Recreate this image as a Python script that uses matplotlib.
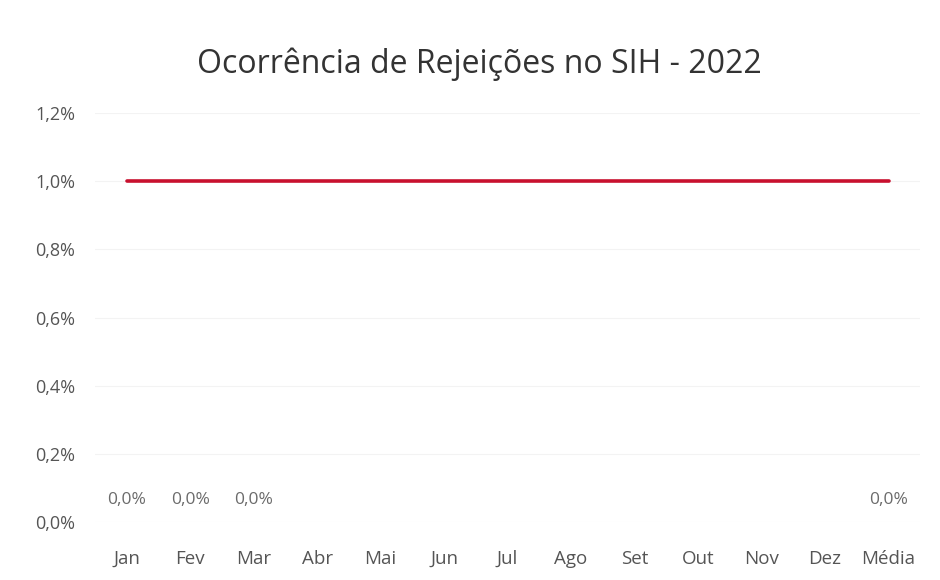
import matplotlib.pyplot as plt
import numpy as np

meses = ["Jan", "Fev", "Mar", "Abr", "Mai", "Jun", "Jul", "Ago", "Set",
         "Out", "Nov", "Dez", "Média"]
# rejection rate (only Jan-Mar and mean reported)
rejeicoes = [0.0, 0.0, 0.0, None, None, None, None, None, None,
             None, None, None, 0.0]
meta = [1.0] * len(meses)

plt.rcParams['font.family'] = ['Open Sans', 'DejaVu Sans']

fig = plt.figure(figsize=(9.4, 5.8), dpi=100)
ax = fig.add_axes([0.101, 0.10, 0.878, 0.705])

x = np.arange(len(meses))
vals = np.array([np.nan if v is None else v for v in rejeicoes])
ax.bar(x, np.nan_to_num(vals), width=0.6, color="#4472c4")
ax.plot(x, meta, color="#c8102e", lw=2.6, solid_capstyle="round", zorder=3)

for xi, v in zip(x, rejeicoes):
    if v is not None:
        ax.text(xi, v + 0.065, f"{v:.1f}%".replace(".", ","), ha="center",
                va="center", fontsize=12.5, color="#6b6b6b")

ax.set_xlim(-0.5, len(meses) - 0.5)
ax.set_ylim(0, 1.2)
ax.set_yticks(np.arange(0, 1.21, 0.2))
ax.set_yticklabels([f"{t:.1f}%".replace(".", ",") for t in np.arange(0, 1.21, 0.2)])
ax.set_xticks(x)
ax.set_xticklabels(meses)
ax.tick_params(axis="both", length=0, labelsize=13, colors="#555555")
ax.tick_params(axis="x", pad=20, labelsize=13.5)
ax.tick_params(axis="y", pad=14)
ax.grid(axis="y", color="#f3f3f3", lw=0.8)
ax.set_axisbelow(True)
for s in ax.spines.values():
    s.set_visible(False)

fig.text(0.51, 0.89, "Ocorrência de Rejeições no SIH - 2022", ha="center",
         va="center", fontsize=23, color="#333333")

fig.savefig("out.png")
